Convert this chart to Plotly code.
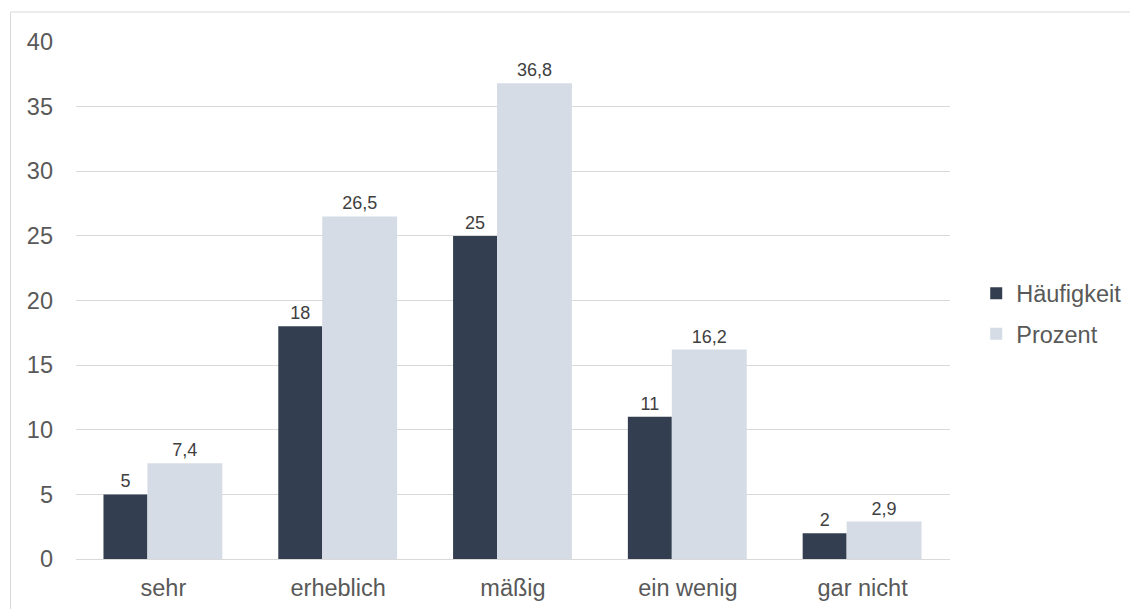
import plotly.graph_objects as go

categories = ["sehr", "erheblich", "mäßig", "ein wenig", "gar nicht"]
haeufigkeit = [5, 18, 25, 11, 2]
prozent = [7.4, 26.5, 36.8, 16.2, 2.9]
y_ticks = [0, 5, 10, 15, 20, 25, 30, 35, 40]

def de(v):
    return (f"{v:g}").replace(".", ",")

FONT = "Liberation Sans, Arial, sans-serif"
cat_px = 175.0
FS = 23.5

fig = go.Figure()
fig.add_trace(go.Bar(
    x=categories, y=haeufigkeit, name="Häufigkeit",
    marker=dict(color="#333f50", line=dict(width=0)),
    width=44 / cat_px, offset=-60 / cat_px,
    text=[de(v) for v in haeufigkeit], textposition="outside",
    textfont=dict(family=FONT, size=18, color="#404040"),
    cliponaxis=False, legendgroup="a",
))
fig.add_trace(go.Bar(
    x=categories, y=prozent, name="Prozent",
    marker=dict(color="#d6dce5", line=dict(width=0)),
    width=75 / cat_px, offset=-16 / cat_px,
    text=[de(v) for v in prozent], textposition="outside",
    textfont=dict(family=FONT, size=18, color="#404040"),
    cliponaxis=False, legendgroup="b",
))

fig.update_layout(
    width=1130, height=609,
    margin=dict(l=75.5, r=179.5, t=42, b=50, autoexpand=False),
    barmode="overlay",
    plot_bgcolor="white", paper_bgcolor="white",
    font=dict(family=FONT, size=FS, color="#595959"),
    showlegend=True,
    legend=dict(x=1.030, xanchor="left", y=0.474, yanchor="middle",
                traceorder="grouped", tracegroupgap=7,
                font=dict(family=FONT, size=FS, color="#595959"),
                bgcolor="rgba(0,0,0,0)"),
    xaxis=dict(range=[-0.5, 4.5], showgrid=False, showline=False, ticks="",
               ticklabelstandoff=12, automargin=False,
               tickfont=dict(family=FONT, size=FS, color="#595959")),
    yaxis=dict(range=[0, 40], tickvals=y_ticks, showgrid=True, gridcolor="#d9d9d9",
               gridwidth=1, zeroline=True, zerolinecolor="#d9d9d9", zerolinewidth=1,
               showline=False, ticks="", ticklabelstandoff=22, automargin=False,
               tickfont=dict(family=FONT, size=FS, color="#595959")),
    shapes=[dict(type="rect", xref="paper", yref="paper",
                 x0=(10 - 75.5) / 875, x1=1.4, y0=-0.3, y1=(559 - 12) / 517,
                 line=dict(color="#d9d9d9", width=1), fillcolor="rgba(0,0,0,0)",
                 layer="below")],
)

fig.write_html("out.html")
